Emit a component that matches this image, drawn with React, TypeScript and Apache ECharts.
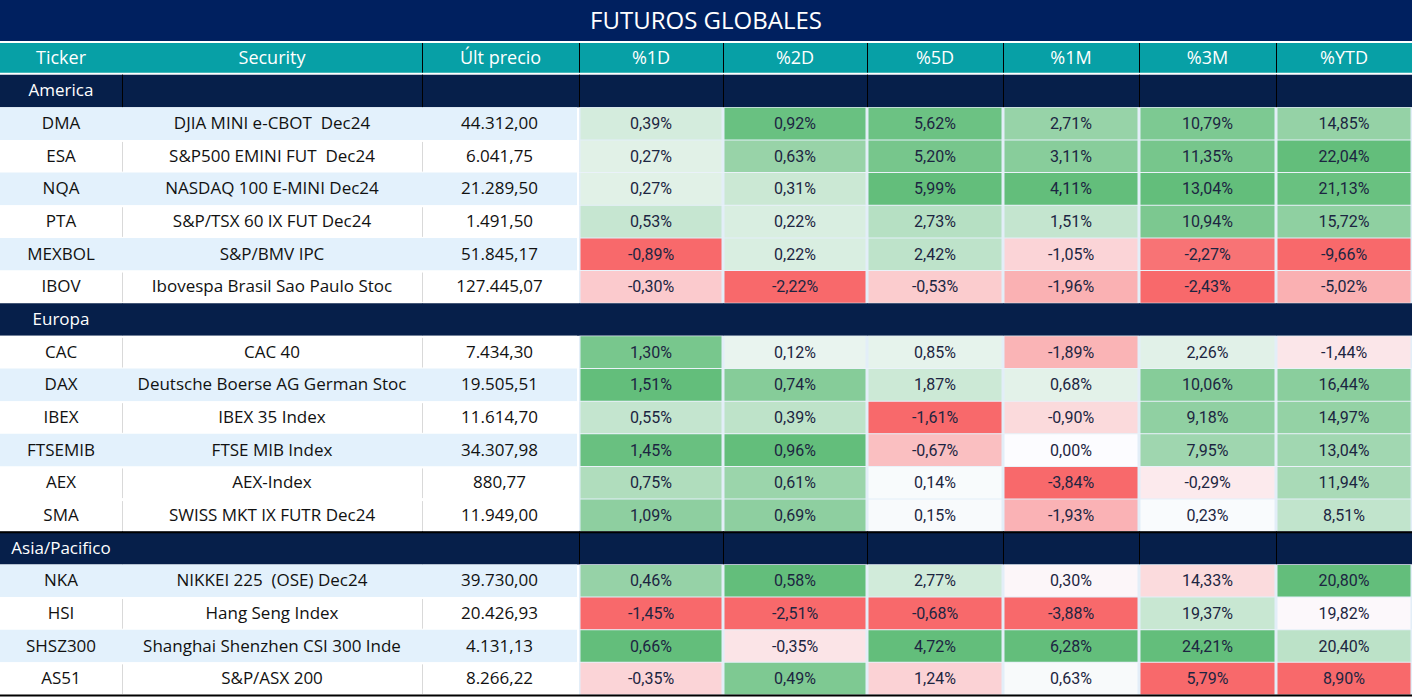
import React, { useEffect, useRef } from "react";
import * as echarts from "echarts";

// ---------- DATA ----------
const title = "FUTUROS GLOBALES";
const headerLabels = ["Ticker", "Security", "Últ precio", "%1D", "%2D", "%5D", "%1M", "%3M", "%YTD"];
const regions = ["America", "Europa", "Asia/Pacifico"];
const tickers = ["DMA", "ESA", "NQA", "PTA", "MEXBOL", "IBOV", "CAC", "DAX", "IBEX", "FTSEMIB", "AEX", "SMA", "NKA", "HSI", "SHSZ300", "AS51"];
const securities = [
  "DJIA MINI e-CBOT  Dec24",
  "S&P500 EMINI FUT  Dec24",
  "NASDAQ 100 E-MINI Dec24",
  "S&P/TSX 60 IX FUT Dec24",
  "S&P/BMV IPC",
  "Ibovespa Brasil Sao Paulo Stoc",
  "CAC 40",
  "Deutsche Boerse AG German Stoc",
  "IBEX 35 Index",
  "FTSE MIB Index",
  "AEX-Index",
  "SWISS MKT IX FUTR Dec24",
  "NIKKEI 225  (OSE) Dec24",
  "Hang Seng Index",
  "Shanghai Shenzhen CSI 300 Inde",
  "S&P/ASX 200",
];
const regionOf = [0, 0, 0, 0, 0, 0, 1, 1, 1, 1, 1, 1, 2, 2, 2, 2];
const lastPrices = [44312.0, 6041.75, 21289.5, 1491.5, 51845.17, 127445.07, 7434.3, 19505.51, 11614.7, 34307.98, 880.77, 11949.0, 39730.0, 20426.93, 4131.13, 8266.22];
const chg1D = [0.39, 0.27, 0.27, 0.53, -0.89, -0.3, 1.3, 1.51, 0.55, 1.45, 0.75, 1.09, 0.46, -1.45, 0.66, -0.35];
const chg2D = [0.92, 0.63, 0.31, 0.22, 0.22, -2.22, 0.12, 0.74, 0.39, 0.96, 0.61, 0.69, 0.58, -2.51, -0.35, 0.49];
const chg5D = [5.62, 5.2, 5.99, 2.73, 2.42, -0.53, 0.85, 1.87, -1.61, -0.67, 0.14, 0.15, 2.77, -0.68, 4.72, 1.24];
const chg1M = [2.71, 3.11, 4.11, 1.51, -1.05, -1.96, -1.89, 0.68, -0.9, 0.0, -3.84, -1.93, 0.3, -3.88, 6.28, 0.63];
const chg3M = [10.79, 11.35, 13.04, 10.94, -2.27, -2.43, 2.26, 10.06, 9.18, 7.95, -0.29, 0.23, 14.33, 19.37, 24.21, 5.79];
const chgYTD = [14.85, 22.04, 21.13, 15.72, -9.66, -5.02, -1.44, 16.44, 14.97, 13.04, 11.94, 8.51, 20.8, 19.82, 20.4, 8.9];
const pctSeries = [chg1D, chg2D, chg5D, chg1M, chg3M, chgYTD];

// colour-scale grouping (conditional formatting ranges)
const scaleGroupOfRegion = [0, 0, 1];
const scaleMidpoint = ["zero", "median"];

// ---------- STYLE / LAYOUT ----------
const W = 1412;
const H = 697;
const colEdges = [0, 122, 422, 579, 723, 867, 1003, 1139, 1276, 1412];
const shadedTickers = ["DMA", "NQA", "MEXBOL", "DAX", "FTSEMIB", "NKA", "SHSZ300"];
const sectionDividerFrom = [1, 99, 3];
const NAVY_TITLE = "#00205F";
const NAVY_SECTION = "#061F4A";
const TEAL = "#07A0A6";
const ROW_BLUE = "#E3F1FC";
const GAP_BG = "#E3EEF8";
const RED = [248, 105, 107];
const MID = [252, 252, 255];
const GREEN = [99, 190, 123];
const FONT_TEXT = "'Open Sans', 'Noto Sans', sans-serif";
const FONT_NUM = "Roboto, 'Liberation Sans', sans-serif";

function mix(a: number[], b: number[], t: number) {
  const c = a.map((v, i) => Math.round(v + (b[i] - v) * Math.max(0, Math.min(1, t))));
  return `rgb(${c[0]},${c[1]},${c[2]})`;
}

function median(vals: number[]) {
  const s = [...vals].sort((a, b) => a - b);
  const m = Math.floor(s.length / 2);
  return s.length % 2 ? s[m] : (s[m - 1] + s[m]) / 2;
}

function colorFor(seriesIdx: number, i: number) {
  const vals = pctSeries[seriesIdx];
  const g = scaleGroupOfRegion[regionOf[i]];
  const groupVals = vals.filter((_, k) => scaleGroupOfRegion[regionOf[k]] === g);
  const mn = Math.min(...groupVals);
  const mx = Math.max(...groupVals);
  const mid = scaleMidpoint[g] === "zero" ? 0 : median(groupVals);
  const v = vals[i];
  if (v >= mid) return mx === mid ? mix(MID, GREEN, 0) : mix(MID, GREEN, (v - mid) / (mx - mid));
  return mix(MID, RED, (mid - v) / (mid - mn));
}

function fmtPrice(v: number) {
  const [ip, dp] = v.toFixed(2).split(".");
  return ip.replace(/\B(?=(\d{3})+(?!\d))/g, ".") + "," + dp;
}
function fmtPct(v: number) {
  return v.toFixed(2).replace(".", ",") + "%";
}

type Row = { kind: "header" } | { kind: "section"; region: number } | { kind: "data"; i: number };

function buildRows(): Row[] {
  const rows: Row[] = [{ kind: "header" }];
  let last = -1;
  tickers.forEach((_, i) => {
    if (regionOf[i] !== last) {
      last = regionOf[i];
      rows.push({ kind: "section", region: last });
    }
    rows.push({ kind: "data", i });
  });
  return rows;
}

type Cell = { r: number; c: number; row: Row; text: string; fill: string };

function buildCells(rows: Row[]): Cell[] {
  const cells: Cell[] = [];
  rows.forEach((row, r) => {
    for (let c = 0; c < headerLabels.length; c++) {
      let text = "";
      let fill = "#fff";
      if (row.kind === "header") {
        text = headerLabels[c];
        fill = TEAL;
      } else if (row.kind === "section") {
        text = c === 0 ? regions[row.region] : "";
        fill = NAVY_SECTION;
      } else {
        const i = row.i;
        const shaded = shadedTickers.includes(tickers[i]);
        if (c === 0) text = tickers[i];
        else if (c === 1) text = securities[i];
        else if (c === 2) text = fmtPrice(lastPrices[i]);
        else text = fmtPct(pctSeries[c - 3][i]);
        fill = c < 3 ? (shaded ? ROW_BLUE : "#fff") : colorFor(c - 3, i);
      }
      cells.push({ r, c, row, text, fill });
    }
  });
  return cells;
}

export default function App() {
  const ref = useRef<HTMLDivElement>(null);
  useEffect(() => {
    if (!ref.current) return;
    const chart = echarts.init(ref.current, null, { renderer: "svg" });
    const rows = buildRows();
    const cells = buildCells(rows);

    const renderItem = (params: any, api: any) => {
      const cell = cells[params.dataIndex];
      const { c, row } = cell;
      const p0 = api.coord([colEdges[c], cell.r]);
      const p1 = api.coord([colEdges[c + 1], cell.r]);
      const h = api.size([0, 1])[1];
      const x0 = p0[0];
      const x1 = p1[0];
      const yTop = p0[1] - h / 2;
      const children: any[] = [];
      if (row.kind === "header") {
        children.push({ type: "rect", shape: { x: x0, y: yTop + 1, width: x1 - x0, height: h - 3 }, style: { fill: TEAL } });
        if (c > 1) children.push({ type: "line", shape: { x1: x0 + 0.5, y1: yTop + 1, x2: x0 + 0.5, y2: yTop + h - 2 }, style: { stroke: "#000", lineWidth: 1 } });
        children.push({
          type: "text",
          x: (x0 + x1) / 2,
          y: yTop + h / 2 - 1.5,
          style: { text: cell.text, fill: "#fff", fontSize: 18, fontFamily: FONT_TEXT, align: "center", verticalAlign: "middle" },
        });
      } else if (row.kind === "section") {
        children.push({ type: "rect", shape: { x: x0, y: yTop, width: x1 - x0 + 0.5, height: h }, style: { fill: NAVY_SECTION } });
        if (c >= sectionDividerFrom[row.region])
          children.push({ type: "line", shape: { x1: x0 + 0.5, y1: yTop, x2: x0 + 0.5, y2: yTop + h }, style: { stroke: "#000", lineWidth: 1 } });
        if (row.region === 2)
          children.push({ type: "line", shape: { x1: x0, y1: yTop + 0.5, x2: x1 + 0.5, y2: yTop + 0.5 }, style: { stroke: "#000", lineWidth: 2 } });
        if (cell.text)
          children.push({
            type: "text",
            x: (x0 + x1) / 2,
            y: yTop + h / 2 - 1,
            style: { text: cell.text, fill: "#fff", fontSize: 17, fontFamily: FONT_TEXT, align: "center", verticalAlign: "middle" },
          });
      } else {
        const isLast = cell.r === rows.length - 1;
        if (c < 3) {
          const right = c === 2 ? x1 - 2 : x1;
          children.push({ type: "rect", shape: { x: x0, y: yTop, width: right - x0, height: h }, style: { fill: cell.fill } });
          if (c > 0 && cell.fill === "#fff")
            children.push({ type: "line", shape: { x1: x0 + 0.5, y1: yTop + 2, x2: x0 + 0.5, y2: yTop + h - 1 }, style: { stroke: "#D9D9D9", lineWidth: 1 } });
          children.push({
            type: "text",
            x: (x0 + right) / 2,
            y: yTop + h / 2 - 1,
            style: { text: cell.text, fill: "#111111", fontSize: 17, fontFamily: FONT_TEXT, align: "center", verticalAlign: "middle" },
          });
        } else {
          children.push({ type: "rect", shape: { x: x0, y: yTop, width: x1 - x0, height: h }, style: { fill: GAP_BG } });
          children.push({ type: "rect", shape: { x: x0 + 1.5, y: yTop + 0.5, width: x1 - x0 - 3, height: h - 1 }, style: { fill: cell.fill } });
          children.push({
            type: "text",
            x: (x0 + x1) / 2,
            y: yTop + h / 2,
            style: { text: cell.text, fill: "#1C2541", fontSize: 16, fontFamily: FONT_NUM, align: "center", verticalAlign: "middle" },
          });
        }
        if (isLast)
          children.push({ type: "line", shape: { x1: x0, y1: yTop + h + 0.5, x2: x1, y2: yTop + h + 0.5 }, style: { stroke: "#000", lineWidth: 2 } });
      }
      return { type: "group", children };
    };

    chart.setOption({
      animation: false,
      backgroundColor: "#ffffff",
      title: {
        text: title,
        left: "center",
        top: 2,
        textStyle: { color: "#ffffff", fontSize: 24, fontWeight: "normal", fontFamily: FONT_TEXT },
      },
      graphic: [
        { type: "rect", z: -1, shape: { x: 0, y: 0, width: W, height: 41 }, style: { fill: NAVY_TITLE } },
      ],
      grid: { left: 0, right: 0, top: 42, bottom: 2 },
      xAxis: { type: "value", min: 0, max: W, show: false },
      yAxis: { type: "category", data: rows.map((_, k) => String(k)), inverse: true, show: false },
      series: [
        {
          type: "custom",
          renderItem,
          clip: false,
          encode: { x: [0, 2], y: 1 },
          data: cells.map((cl) => [colEdges[cl.c], cl.r, colEdges[cl.c + 1]]),
        },
      ],
    });
    return () => chart.dispose();
  }, []);
  return <div ref={ref} style={{ position: "absolute", left: 0, top: 0, width: W, height: H }} />;
}
